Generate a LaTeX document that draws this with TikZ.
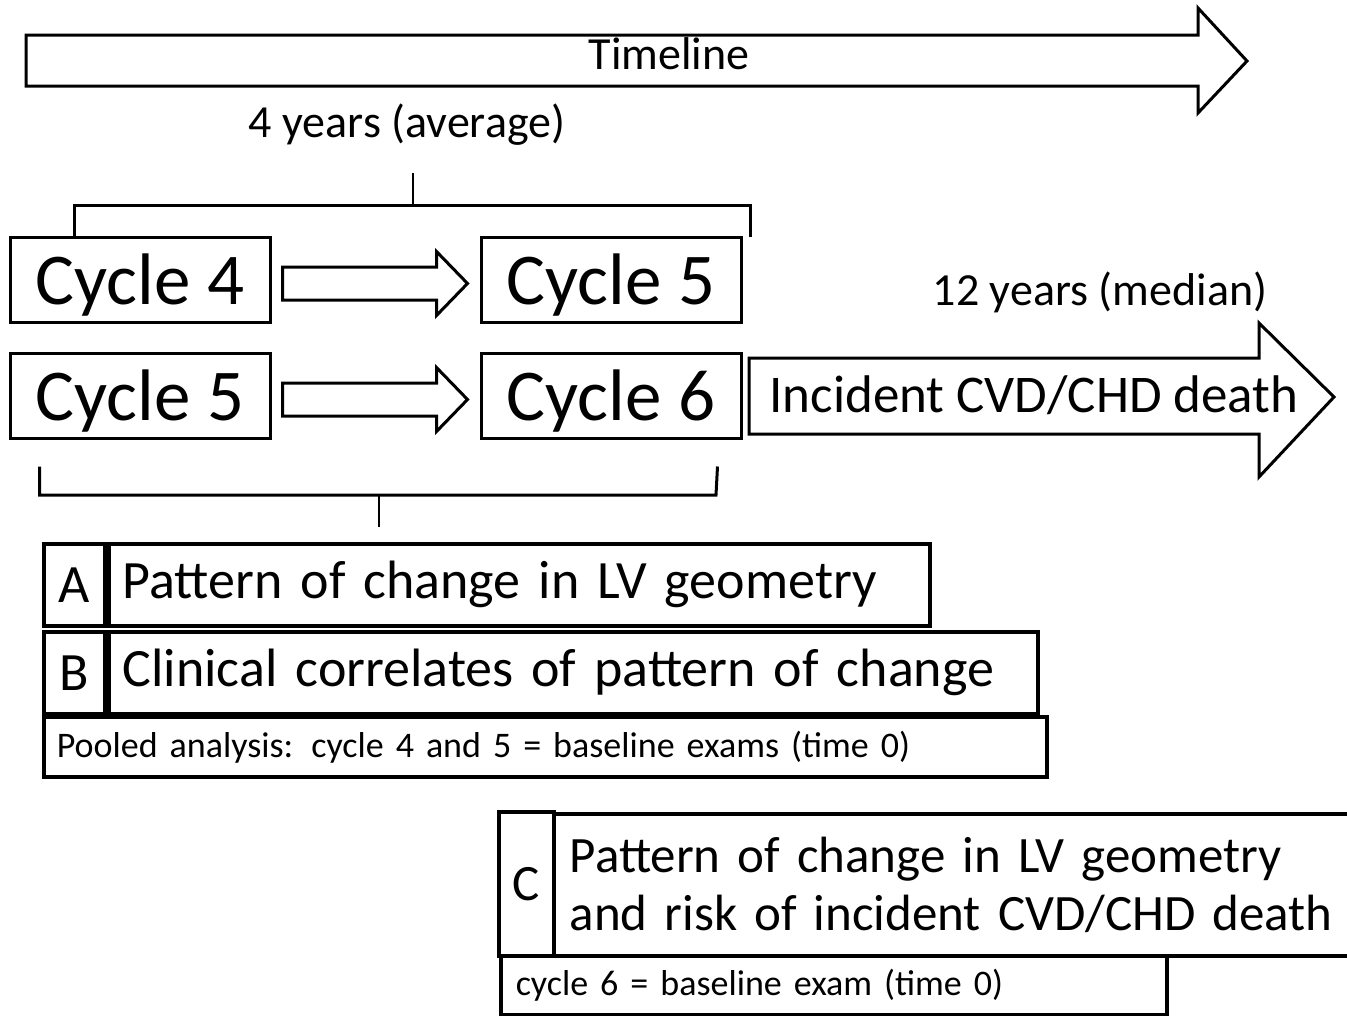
\documentclass[tikz,border=0pt]{standalone}
\usepackage{fontspec}
\setmainfont{Carlito}
\usetikzlibrary{calc}

% hollow block arrow from one box to the next
\newcommand{\hollowarr}[2]{%
  \draw[hollow] ($(#1.east)+(11,-12.5)$) -- ($(#2.west)+(-43,-12.5)$)
    -- ($(#2.west)+(-43,-28)$) -- ($(#2.west)+(-12,4)$) -- ($(#2.west)+(-43,36)$)
    -- ($(#2.west)+(-43,20.5)$) -- ($(#1.east)+(11,20.5)$) -- cycle;}

\begin{document}
\begin{tikzpicture}[x=1pt, y=-1pt,
    line/.style={line width=3pt},
    tick/.style={line width=2.5pt},
    hollow/.style={draw, line width=3pt, line join=miter},
    cyc/.style={rectangle, draw, line width=3pt, minimum width=260pt, minimum height=85pt,
                inner sep=0pt, text depth=0pt, font=\fontsize{73}{80}\selectfont},
    lbox/.style={rectangle, draw, line width=3.5pt, inner sep=0pt, anchor=north west},
    tbox/.style={rectangle, draw, line width=3.5pt, inner ysep=0pt, anchor=north west, align=left},
    big/.style={font=\fontsize{54}{60}\selectfont},
    small/.style={font=\fontsize{36}{40}\selectfont},
    lab/.style={anchor=base, font=\fontsize{46}{50}\selectfont}
]
\useasboundingbox (0,0) rectangle (1347,1015);

% timeline
\draw[hollow] (26,35) -- (1198,35) -- (1198,8) -- (1247,61) -- (1198,113) -- (1198,86) -- (26,86) -- cycle;
\node[lab] (tl) at (669,69) {Timeline};
\node[lab] (avg) at (407,137) {4 years (average)};

% cycles
\node[cyc] (c4)  at (140,279.5) {Cycle 4};
\node[cyc] (c5a) at (611,279.5) {Cycle 5};
\node[cyc] (c5b) at (140,395.5) {Cycle 5};
\node[cyc] (c6)  at (611,395.5) {Cycle 6};
\hollowarr{c4}{c5a}
\hollowarr{c5b}{c6}

% brackets
\draw[line] ([xshift=66pt]c4.north west) |- (750,205) -- (750,237);
\draw[tick] (413,205) -- (413,173);
\draw[line] ([xshift=31pt,yshift=-27pt]c5b.south west) |- (716,495) -- ([xshift=-25pt,yshift=-27pt]c6.south east);
\draw[tick] (379,495) -- (379,527);

% follow-up
\draw[hollow] (749,358) -- (1259,358) -- (1259,323) -- (1334,397) -- (1259,477) -- (1259,434) -- (749,434) -- cycle;
\node[anchor=base west, font=\fontsize{53}{58}\selectfont] (inc) at (766,412) {Incident CVD/CHD death};
\node[lab] (med) at (1100,305) {12 years (median)};

% analyses A and B
\node[lbox, big, minimum width=61pt, minimum height=82pt] (la) at (42,542) {A};
\node[tbox, big, inner xsep=14pt, text width=793pt, minimum height=82pt] (ta) at (107,542)
    {Pattern of change in LV geometry};
\node[lbox, big, minimum width=61pt, minimum height=82pt] (lb) at (42,630) {B};
\node[tbox, big, inner xsep=14pt, text width=901pt, minimum height=82pt] (tb) at (107,630)
    {Clinical correlates of pattern of change};
\node[tbox, small, inner xsep=13pt, text width=977pt, minimum height=60pt] (pool) at (42,715)
    {Pooled analysis: cycle 4 and 5 = baseline exams (time 0)};

% analysis C
\node[lbox, font=\fontsize{51}{58}\selectfont, minimum width=55pt, minimum height=144pt] (lc) at (497,810) {C};
\node[tbox, font=\fontsize{51}{58}\selectfont, inner xsep=16pt, text width=900pt, minimum height=142pt] (tc) at (552,812)
    {Pattern of change in LV geometry\\and risk of incident CVD/CHD death};
\node[tbox, small, inner xsep=15pt, text width=636pt, minimum height=59pt] (base) at (499,954)
    {cycle 6 = baseline exam (time 0)};
\end{tikzpicture}
\end{document}
